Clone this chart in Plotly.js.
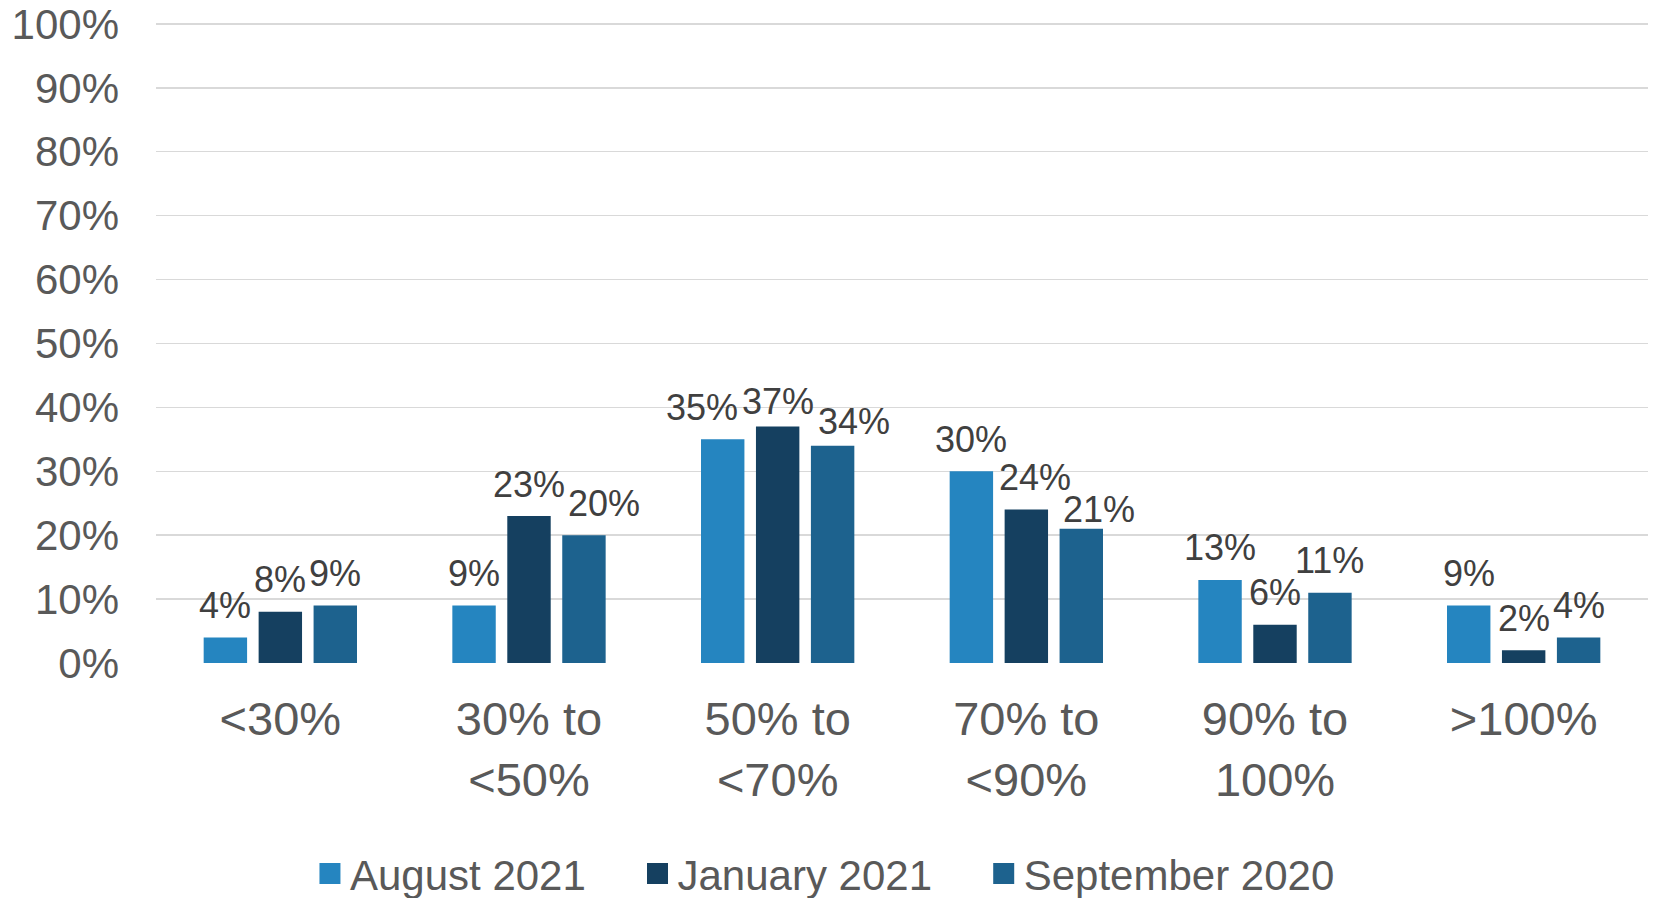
<!DOCTYPE html>
<html>
<head>
<meta charset="utf-8">
<script src="https://cdn.plot.ly/plotly-3.0.1.min.js"></script>
<style>html,body{margin:0;padding:0;background:#fff;}#chart{width:1654px;height:898px;}</style>
</head>
<body>
<div id="chart"></div>
<script>
const categories = ['<30%', '30% to <50%', '50% to <70%', '70% to <90%', '90% to 100%', '>100%'];
const tickLabels = ['&lt;30%', '30% to<br>&lt;50%', '50% to<br>&lt;70%', '70% to<br>&lt;90%', '90% to<br>100%', '&gt;100%'];
const aug2021 = [4, 9, 35, 30, 13, 9];
const jan2021 = [8, 23, 37, 24, 6, 2];
const sep2020 = [9, 20, 34, 21, 11, 4];
const seriesNames = ['August 2021', 'January 2021', 'September 2020'];
const seriesColors = ['#2585C0', '#154060', '#1D628E'];

// label placement tweaks (pixels) for crowded labels, as in the reference: [dx, dy-down]
const labelNudge = {'0,2': [-21, 0], '1,2': [0, 7], '2,2': [21, 8], '2,1': [20, 0], '1,3': [9, 0], '2,3': [18, 13]};

const FONT = 'Liberation Sans, Arial, sans-serif';
const W = 1654, H = 898;
const margin = {l: 156, r: 6, t: 22, b: 235, autoexpand: false};
const bargap = 0.337, bargroupgap = 0.21;
const legendPad = '\u00a0\u00a0\u00a0\u00a0';

const allSeries = [aug2021, jan2021, sep2020];
const traces = allSeries.map((vals, i) => ({
  type: 'bar',
  name: seriesNames[i] + (i < allSeries.length - 1 ? legendPad : ''),
  x: categories,
  y: vals,
  marker: {color: seriesColors[i]},
  hoverinfo: 'skip'
}));

const plotW = W - margin.l - margin.r;
const slotPx = plotW / categories.length * (1 - bargap) / allSeries.length;
const annotations = [];
allSeries.forEach((vals, i) => {
  vals.forEach((v, j) => {
    const n = labelNudge[i + ',' + j] || [0, 0];
    annotations.push({
      x: categories[j], y: v, xref: 'x', yref: 'y',
      text: v + '%', showarrow: false,
      xanchor: 'center', yanchor: 'middle',
      xshift: (i - (allSeries.length - 1) / 2) * slotPx + n[0],
      yshift: 32 - n[1],
      font: {family: FONT, size: 36, color: '#404040'}
    });
  });
});

const layout = {
  width: W, height: H,
  margin: margin,
  paper_bgcolor: '#fff', plot_bgcolor: '#fff',
  barmode: 'group',
  bargap: bargap,
  bargroupgap: bargroupgap,
  font: {family: FONT, color: '#595959'},
  annotations: annotations,
  xaxis: {
    tickmode: 'array', tickvals: categories, ticktext: tickLabels,
    tickfont: {family: FONT, size: 47, color: '#595959'},
    tickangle: 0, automargin: false,
    showgrid: false, zeroline: false, showline: false, ticks: '',
    ticklabelstandoff: 24
  },
  yaxis: {
    range: [0, 100.3], tick0: 0, dtick: 10, ticksuffix: '%',
    tickfont: {family: FONT, size: 42, color: '#595959'},
    automargin: false,
    showgrid: true, gridcolor: '#D9D9D9', gridwidth: 1.5,
    zeroline: false, showline: false, ticks: '',
    ticklabelstandoff: 36
  },
  showlegend: true,
  legend: {
    orientation: 'h', xref: 'container', yref: 'container',
    x: 0.1874, xanchor: 'left', y: 0.027, yanchor: 'middle',
    font: {family: FONT, size: 42, color: '#595959'},
    itemclick: false, itemdoubleclick: false,
    traceorder: 'normal'
  }
};

Plotly.newPlot('chart', traces, layout, {staticPlot: true, displayModeBar: false}).then(() => {
  document.querySelectorAll('.legend .legendpoints path').forEach(p => {
    const t = p.getAttribute('transform') || '';
    p.setAttribute('transform', t + ' scale(1.75)');
  });
});
</script>
</body>
</html>
